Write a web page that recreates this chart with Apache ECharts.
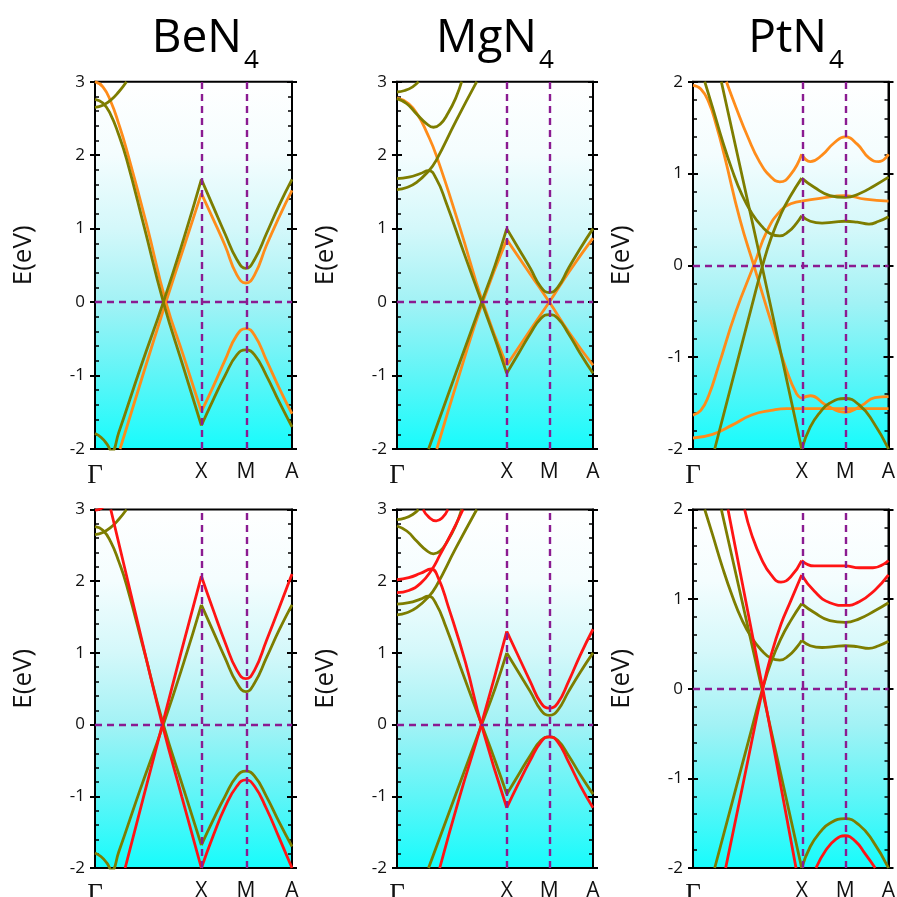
<!DOCTYPE html>
<html>
<head>
<meta charset="utf-8">
<script src="https://cdn.jsdelivr.net/npm/echarts@6/dist/echarts.min.js"></script>
<style>
  html, body { margin: 0; padding: 0; background: #ffffff; }
  #chart { width: 897px; height: 897px; }
</style>
</head>
<body>
<div id="chart"></div>
<script>
// ---- panel labels and k-path ----
const compounds = ['BeN', 'MgN', 'PtN'];
const compoundSubscript = '4';
const kPathLabels = ['Γ', 'X', 'M', 'A'];
const kPointX = [0.54, 0.56, 0.556];   // fractional position of X along Γ-X-M-A
const kPointM = [0.766, 0.777, 0.778]; // fractional position of M
const energyMin = [-2, -2, -2];
const energyMax = [3, 3, 2];
const energyStep = 1;

// ---- BeN4 bands: [k, E(eV)] ----
const beN4Olive = [
  [[0, 2.65], [0.04, 2.68], [0.08, 2.75], [0.12, 2.86], [0.16, 3.0]],
  [[0, 2.76], [0.04, 2.71], [0.08, 2.55], [0.12, 2.28], [0.16, 1.95], [0.25, 1.02], [0.347, 0], [0.45, -0.9], [0.54, -1.68],
   [0.6, -1.33], [0.66, -1.0], [0.72, -0.72], [0.766, -0.65], [0.81, -0.72], [0.87, -1.0], [0.935, -1.36], [1, -1.7]],
  [[0, -1.79], [0.03, -1.84], [0.06, -1.93], [0.085, -2.03], [0.12, -1.78], [0.23, -0.9], [0.347, 0], [0.45, 0.86], [0.54, 1.67],
   [0.6, 1.3], [0.66, 0.93], [0.72, 0.58], [0.766, 0.46], [0.81, 0.58], [0.87, 0.93], [0.935, 1.32], [1, 1.67]]
];
const beN4Orange = [
  [[0, 3.0], [0.04, 2.93], [0.08, 2.73], [0.12, 2.43], [0.16, 2.08], [0.26, 1.08], [0.36, 0], [0.45, -0.74], [0.54, -1.49],
   [0.6, -1.15], [0.66, -0.79], [0.72, -0.45], [0.766, -0.36], [0.81, -0.45], [0.87, -0.79], [0.935, -1.17], [1, -1.52]],
  [[0.127, -2], [0.24, -1.02], [0.36, 0], [0.45, 0.74], [0.54, 1.48],
   [0.6, 1.13], [0.66, 0.77], [0.72, 0.37], [0.766, 0.26], [0.81, 0.37], [0.87, 0.77], [0.935, 1.16], [1, 1.52]]
];
const beN4Red = [
  [[0, 2.99], [0.02, 3.0], [0.04, 3.03]],
  [[0.08, 3.0], [0.21, 1.5], [0.342, 0], [0.44, -1.0], [0.54, -2.0],
   [0.6, -1.55], [0.66, -1.15], [0.72, -0.86], [0.766, -0.77], [0.81, -0.86], [0.87, -1.17], [0.935, -1.58], [1, -2.0]],
  [[0.153, -2], [0.25, -0.97], [0.342, 0], [0.44, 1.04], [0.54, 2.07],
   [0.6, 1.6], [0.66, 1.15], [0.72, 0.76], [0.766, 0.64], [0.81, 0.76], [0.87, 1.17], [0.935, 1.63], [1, 2.1]]
];

// ---- MgN4 bands ----
const mgN4Olive = [
  [[0, 2.86], [0.04, 2.88], [0.08, 2.93], [0.11, 3.0]],
  [[0, 2.77], [0.05, 2.7], [0.1, 2.56], [0.15, 2.43], [0.186, 2.38], [0.22, 2.42], [0.26, 2.57], [0.3, 2.78], [0.33, 3.0]],
  [[0, 1.68], [0.06, 1.7], [0.12, 1.75], [0.16, 1.79], [0.2, 1.68], [0.25, 1.36], [0.34, 0.68], [0.432, 0], [0.5, -0.5], [0.56, -0.97],
   [0.62, -0.7], [0.68, -0.43], [0.735, -0.22], [0.777, -0.17], [0.82, -0.22], [0.875, -0.43], [0.935, -0.7], [1, -0.97]],
  [[0, 1.53], [0.05, 1.56], [0.1, 1.63], [0.16, 1.78], [0.2, 1.93], [0.3, 2.46], [0.407, 3.0]],
  [[0.161, -2], [0.3, -0.97], [0.432, 0], [0.5, 0.5], [0.56, 1.0],
   [0.62, 0.73], [0.68, 0.46], [0.735, 0.2], [0.777, 0.13], [0.82, 0.2], [0.875, 0.46], [0.935, 0.73], [1, 1.0]]
];
const mgN4Orange = [
  [[0, 2.78], [0.06, 2.7], [0.11, 2.53], [0.15, 2.32], [0.2, 2.0], [0.32, 1.02], [0.437, 0], [0.56, -0.86],
   [0.68, -0.38], [0.777, 0.0], [0.88, 0.42], [1, 0.87]],
  [[0.203, -2], [0.32, -0.97], [0.437, 0], [0.56, 0.85],
   [0.68, 0.38], [0.777, 0.0], [0.88, -0.42], [1, -0.86]]
];
const mgN4Red = [
  [[0.133, 3.0], [0.16, 2.9], [0.2, 2.84], [0.23, 2.88], [0.26, 3.0]],
  [[0, 2.02], [0.06, 2.05], [0.12, 2.11], [0.175, 2.17], [0.21, 2.05], [0.26, 1.66], [0.35, 0.86], [0.43, 0], [0.56, -1.16],
   [0.62, -0.82], [0.68, -0.5], [0.735, -0.24], [0.777, -0.17], [0.82, -0.24], [0.875, -0.52], [0.935, -0.85], [1, -1.16]],
  [[0, 1.84], [0.06, 1.87], [0.12, 1.97], [0.175, 2.15], [0.22, 2.37], [0.28, 2.68], [0.337, 3.0]],
  [[0.218, -2], [0.32, -1.0], [0.43, 0], [0.56, 1.3],
   [0.62, 0.95], [0.68, 0.6], [0.735, 0.3], [0.777, 0.23], [0.82, 0.3], [0.875, 0.6], [0.935, 0.97], [1, 1.33]]
];

// ---- PtN4 bands ----
const ptN4Olive = [
  [[0.145, 2.0], [0.35, 0.02], [0.556, -2.0]],
  [[0.06, 2.0], [0.1, 1.72], [0.15, 1.36], [0.2, 1.04], [0.25, 0.77], [0.3, 0.57], [0.35, 0.43], [0.4, 0.34], [0.444, 0.32], [0.49, 0.37], [0.53, 0.46], [0.556, 0.54],
   [0.6, 0.48], [0.66, 0.46], [0.72, 0.47], [0.778, 0.48], [0.84, 0.47], [0.9, 0.45], [0.95, 0.48], [1, 0.53]],
  [[0.111, -2.0], [0.2, -1.27], [0.3, -0.45], [0.356, 0], [0.4, 0.3], [0.45, 0.56], [0.5, 0.76], [0.556, 0.95],
   [0.62, 0.85], [0.7, 0.76], [0.778, 0.74], [0.85, 0.78], [0.93, 0.87], [1, 0.96]],
  [[0.556, -2.0], [0.6, -1.76], [0.65, -1.6], [0.7, -1.5], [0.778, -1.45], [0.85, -1.52], [0.92, -1.7], [1, -2.0]]
];
const ptN4Orange = [
  [[0, 1.96], [0.04, 1.92], [0.08, 1.78], [0.12, 1.52], [0.16, 1.2], [0.24, 0.5], [0.311, 0.0], [0.4, -0.62], [0.48, -1.15], [0.53, -1.4], [0.556, -1.45],
   [0.6, -1.42], [0.68, -1.52], [0.778, -1.6], [0.86, -1.53], [0.93, -1.44], [1, -1.43]],
  [[0, -1.63], [0.04, -1.58], [0.08, -1.42], [0.13, -1.1], [0.22, -0.5], [0.311, 0.0], [0.38, 0.38], [0.45, 0.6], [0.5, 0.67], [0.556, 0.7],
   [0.65, 0.73], [0.778, 0.76], [0.88, 0.72], [1, 0.7]],
  [[0.171, 2.0], [0.22, 1.72], [0.28, 1.4], [0.34, 1.13], [0.4, 0.96], [0.444, 0.91], [0.5, 0.99], [0.556, 1.21],
   [0.6, 1.13], [0.66, 1.2], [0.72, 1.33], [0.778, 1.4], [0.84, 1.32], [0.9, 1.17], [0.95, 1.13], [1, 1.21]],
  [[0, -1.88], [0.1, -1.84], [0.2, -1.74], [0.3, -1.63], [0.4, -1.58], [0.48, -1.56], [0.556, -1.56], [0.778, -1.56], [1, -1.56]]
];
const ptN4Red = [
  [[0.264, 2.0], [0.3, 1.72], [0.35, 1.45], [0.4, 1.27], [0.45, 1.19], [0.5, 1.25], [0.556, 1.43],
   [0.62, 1.37], [0.7, 1.37], [0.778, 1.37], [0.85, 1.35], [0.92, 1.35], [1, 1.43]],
  [[0.179, 2.0], [0.357, 0], [0.527, -2.0]],
  [[0.167, -2.0], [0.26, -1.02], [0.357, 0], [0.4, 0.38], [0.45, 0.72], [0.5, 0.98], [0.556, 1.27],
   [0.62, 1.09], [0.7, 0.96], [0.778, 0.93], [0.85, 0.97], [0.93, 1.1], [1, 1.27]],
  [[0.629, -2.0], [0.68, -1.8], [0.73, -1.68], [0.778, -1.64], [0.83, -1.7], [0.88, -1.84], [0.932, -2.0]]
];

// row 0: olive + orange, row 1: olive + red
const olivePerColumn = [beN4Olive, mgN4Olive, ptN4Olive];
const partnerPerRow = [
  [beN4Orange, mgN4Orange, ptN4Orange],
  [beN4Red, mgN4Red, ptN4Red]
];

// ---- styling & layout ----
const FONT = '"Open Sans", "Noto Sans", sans-serif';
const OLIVE = '#7d7d00';
const ORANGE = '#ff8c1a';
const RED = '#ff1414';
const GUIDE = '#8a1b91';
const TEXT = '#111111';
const rowPartnerColor = [ORANGE, RED];
const partnerOnTop = [false, true];

const colLeft = [95, 397, 693];
const colWidth = [197, 196, 195.5];
const rowTop = [81.7, 509.5];
const rowHeight = [367.3, 358.5];
const titleRight = [242, 537, 827];

function panelBackground() {
  return new echarts.graphic.LinearGradient(0, 0, 0, 1, [
    { offset: 0, color: '#ffffff' },
    { offset: 0.2, color: '#f4fdfe' },
    { offset: 0.4, color: '#d4f8fa' },
    { offset: 0.6, color: '#a2f2f5' },
    { offset: 0.8, color: '#5ef5f7' },
    { offset: 1, color: '#16fcfc' }
  ]);
}

// Split a band at the X point so the zone-boundary cusp stays sharp.
function splitAtX(band, kx) {
  const i = band.findIndex(p => Math.abs(p[0] - kx) < 1e-9);
  if (i <= 0 || i >= band.length - 1) return [band];
  return [band.slice(0, i + 1), band.slice(i)];
}

const grids = [], xAxes = [], yAxes = [], series = [], graphics = [];

for (let row = 0; row < 2; row++) {
  for (let col = 0; col < 3; col++) {
    const g = grids.length;
    const kx = kPointX[col], km = kPointM[col];
    const ticksK = [0, kx, km, 1];
    grids.push({
      left: colLeft[col], top: rowTop[row], width: colWidth[col], height: rowHeight[row],
      containLabel: false, outerBoundsMode: 'none',
      show: true, borderColor: '#000', borderWidth: 2,
      backgroundColor: panelBackground()
    });
    xAxes.push({
      type: 'value', gridIndex: g, min: 0, max: 1, position: 'bottom',
      axisLine: { show: true, onZero: false, lineStyle: { color: '#000', width: 2 } },
      axisTick: { show: false }, splitLine: { show: false },
      axisLabel: {
        customValues: ticksK,
        formatter: v => {
          const idx = ticksK.findIndex(t => Math.abs(t - v) < 1e-6);
          return idx === 0 ? '{g|' + kPathLabels[0] + '}' : kPathLabels[idx];
        },
        color: TEXT, fontSize: 21, fontFamily: FONT, margin: 13,
        rich: { g: { fontFamily: '"Liberation Serif", "DejaVu Serif", serif', fontSize: 27, color: TEXT } }
      }
    });
    const yBase = yAxes.length;
    const yCommon = {
      type: 'value', gridIndex: g, min: energyMin[col], max: energyMax[col],
      interval: energyStep, splitLine: { show: false }
    };
    // left: labels + outward major ticks
    yAxes.push(Object.assign({}, yCommon, {
      position: 'left',
      axisLine: { show: true, onZero: false, lineStyle: { color: '#000', width: 2 } },
      axisTick: { show: true, inside: false, length: 5, lineStyle: { color: '#000', width: 2 } },
      axisLabel: { color: TEXT, fontSize: 17, fontFamily: FONT, margin: 10 },
      name: 'E(eV)', nameLocation: 'middle', nameGap: 58, nameRotate: 90,
      nameTextStyle: { fontSize: 26, color: TEXT, fontFamily: FONT, padding: [0, 0, 0, 20] }
    }));
    // left: inward major + minor ticks
    yAxes.push(Object.assign({}, yCommon, {
      position: 'left',
      axisLine: { show: false, onZero: false },
      axisTick: { show: true, inside: true, length: 5, lineStyle: { color: '#000', width: 2 } },
      minorTick: { show: true, splitNumber: 5, length: 4, lineStyle: { color: '#000', width: 1.5 } },
      axisLabel: { show: false }
    }));
    // right: inward major + minor ticks
    yAxes.push(Object.assign({}, yCommon, {
      position: 'right',
      axisLine: { show: true, onZero: false, lineStyle: { color: '#000', width: 2 } },
      axisTick: { show: true, inside: true, length: 5, lineStyle: { color: '#000', width: 2 } },
      minorTick: { show: true, splitNumber: 5, length: 4, lineStyle: { color: '#000', width: 1.5 } },
      axisLabel: { show: false }
    }));
    // right: outward major ticks
    yAxes.push(Object.assign({}, yCommon, {
      position: 'right',
      axisLine: { show: false, onZero: false },
      axisTick: { show: true, inside: false, length: 5, lineStyle: { color: '#000', width: 2 } },
      axisLabel: { show: false }
    }));

    // dashed guides at X, M and the Fermi level
    series.push({
      type: 'line', xAxisIndex: g, yAxisIndex: yBase, data: [], silent: true, z: 1,
      markLine: {
        silent: true, symbol: ['none', 'none'], label: { show: false },
        lineStyle: { color: GUIDE, width: 2.4, type: [7, 5] },
        emphasis: { disabled: true },
        data: [{ xAxis: kx }, { xAxis: km }, { yAxis: 0 }]
      }
    });

    const addBands = (bands, color, z) => {
      bands.forEach(band => {
        splitAtX(band, kx).forEach(seg => {
          series.push({
            type: 'line', xAxisIndex: g, yAxisIndex: yBase, data: seg,
            showSymbol: false, smooth: 0.5, clip: true, silent: true, z: z,
            lineStyle: { color: color, width: 2.8 }
          });
        });
      });
    };
    const onTop = partnerOnTop[row];
    addBands(olivePerColumn[col], OLIVE, onTop ? 3 : 4);
    addBands(partnerPerRow[row][col], rowPartnerColor[row], onTop ? 4 : 3);
  }
}

// compound titles with subscript
compounds.forEach((name, col) => {
  graphics.push({
    type: 'text', x: titleRight[col], y: 39,
    style: { text: name, font: '46px ' + FONT, fill: '#000', align: 'right', verticalAlign: 'middle' }
  });
  graphics.push({
    type: 'text', x: titleRight[col] + 2, y: 61,
    style: { text: compoundSubscript, font: '26px ' + FONT, fill: '#000', align: 'left', verticalAlign: 'middle' }
  });
});

const chart = echarts.init(document.getElementById('chart'), null, { renderer: 'canvas' });
chart.setOption({
  animation: false,
  backgroundColor: '#ffffff',
  grid: grids,
  xAxis: xAxes,
  yAxis: yAxes,
  series: series,
  graphic: graphics
});
</script>
</body>
</html>
